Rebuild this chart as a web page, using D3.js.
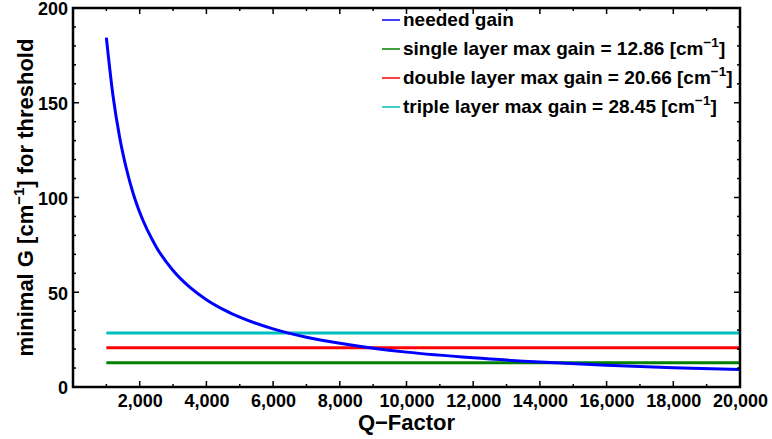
<!DOCTYPE html>
<html>
<head>
<meta charset="utf-8">
<script src="https://cdn.jsdelivr.net/npm/d3@7"></script>
<style>
  body { margin: 0; background: #fff; }
  text { font-family: "Liberation Sans", Arial, sans-serif; font-weight: bold; fill: #000; }
</style>
</head>
<body>
<svg width="772" height="439"></svg>
<script>
// needed gain
var qFactor = [1000, 1200, 1400, 1600, 1800, 2000, 2500, 3000, 3500, 4000, 4500, 5000, 6000, 7000, 8000, 9000, 10000, 12000, 14000, 16000, 18000, 20000];
var neededGain = [184.4, 153.7, 131.7, 115.3, 102.4, 92.2, 73.8, 61.5, 52.7, 46.1, 41.0, 36.9, 30.7, 26.3, 23.1, 20.5, 18.4, 15.4, 13.2, 11.5, 10.2, 9.2];

var layerNames = ["single", "double", "triple"];
var layerGain = [12.86, 20.66, 28.45];
var layerColors = ["#007f00", "#ff0000", "#00bfbf"];
var qRange = [1000, 20000];

var xTicks = [2000, 4000, 6000, 8000, 10000, 12000, 14000, 16000, 18000, 20000];
var yTicks = [0, 50, 100, 150, 200];

var svg = d3.select("svg");
var m = {left: 73, right: 740, top: 8, bottom: 387};

var x = d3.scaleLinear().domain([0, 20000]).range([m.left, m.right]);
var y = d3.scaleLinear().domain([0, 200]).range([m.bottom, m.top]);

var g = svg.append("g");

// lines
var line = d3.line()
    .x(function(d) { return x(d[0]); })
    .y(function(d) { return y(d[1]); })
    .curve(d3.curveMonotoneX);

layerGain.forEach(function(v, i) {
    g.append("path")
        .attr("d", line(qRange.map(function(q) { return [q, v]; })))
        .attr("fill", "none")
        .attr("stroke", layerColors[i])
        .attr("stroke-width", 3);
});

g.append("path")
    .attr("d", line(qFactor.map(function(q, i) { return [q, neededGain[i]]; })))
    .attr("fill", "none")
    .attr("stroke", "#0000ff")
    .attr("stroke-width", 3);

// frame + inward ticks
var fmt = d3.format(",");
var axB = d3.axisBottom(x).tickValues(xTicks).tickFormat(fmt).tickSizeInner(-6).tickSizeOuter(0).tickPadding(7);
var axL = d3.axisLeft(y).tickValues(yTicks).tickSizeInner(-6).tickSizeOuter(0).tickPadding(5);

var minorX = d3.range(1000, 20000, 1000).filter(function(v) { return v % 2000; });
var minorY = d3.range(10, 200, 10).filter(function(v) { return v % 50; });

function drawTicks(sel, vals, len) {
    vals.forEach(function(v) {
        sel.append("line").attr("x1", x(v)).attr("x2", x(v)).attr("y1", m.bottom).attr("y2", m.bottom - len);
        sel.append("line").attr("x1", x(v)).attr("x2", x(v)).attr("y1", m.top).attr("y2", m.top + len);
    });
}
function drawYTicks(sel, vals, len) {
    vals.forEach(function(v) {
        sel.append("line").attr("y1", y(v)).attr("y2", y(v)).attr("x1", m.left).attr("x2", m.left + len);
        sel.append("line").attr("y1", y(v)).attr("y2", y(v)).attr("x1", m.right).attr("x2", m.right - len);
    });
}

var tg = svg.append("g").attr("stroke", "#000").attr("stroke-width", 1.5);
drawTicks(tg, minorX, 3);
drawTicks(tg, xTicks, 6);
drawYTicks(tg, minorY, 3);
drawYTicks(tg, yTicks, 6);

svg.append("rect")
    .attr("x", m.left).attr("y", m.top)
    .attr("width", m.right - m.left).attr("height", m.bottom - m.top)
    .attr("fill", "none").attr("stroke", "#000").attr("stroke-width", 2.5);

var gx = svg.append("g").attr("transform", "translate(0," + m.bottom + ")").call(axB);
var gy = svg.append("g").attr("transform", "translate(" + m.left + ",0)").call(axL);
[gx, gy].forEach(function(a) {
    a.select(".domain").remove();
    a.selectAll(".tick line").remove();
    a.selectAll("text").attr("font-size", 18).attr("font-family", null);
});
gx.selectAll("text").attr("dy", "0.71em");
gy.selectAll("text").attr("dy", "0.38em");

// axis titles
svg.append("text")
    .attr("x", (m.left + m.right) / 2).attr("y", 430)
    .attr("text-anchor", "middle").attr("font-size", 22)
    .text("Q\u2212Factor");

var yt = svg.append("text")
    .attr("transform", "translate(33," + ((m.top + m.bottom) / 2) + ") rotate(-90)")
    .attr("text-anchor", "middle").attr("font-size", 22);
yt.append("tspan").text("minimal G [cm");
yt.append("tspan").attr("dy", -9).attr("font-size", 15).text("\u22121");
yt.append("tspan").attr("dy", 9).text("] for threshold");

// legend
var legendItems = [{label: "needed gain", color: "#0000ff"}];
layerNames.forEach(function(n, i) {
    legendItems.push({label: n + " layer max gain = " + layerGain[i].toFixed(2) + " [cm", sup: true, color: layerColors[i]});
});

var lg = svg.append("g");
legendItems.forEach(function(d, i) {
    var cy = 20 + i * 29;
    lg.append("line").attr("x1", 382).attr("x2", 400).attr("y1", cy).attr("y2", cy)
        .attr("stroke", d.color).attr("stroke-width", 1.5);
    var t = lg.append("text").attr("x", 403).attr("y", cy + 6).attr("font-size", 19);
    t.append("tspan").text(d.label);
    if (d.sup) {
        t.append("tspan").attr("dy", -8).attr("font-size", 13.5).text("\u22121");
        t.append("tspan").attr("dy", 8).text("]");
    }
});
</script>
</body>
</html>
